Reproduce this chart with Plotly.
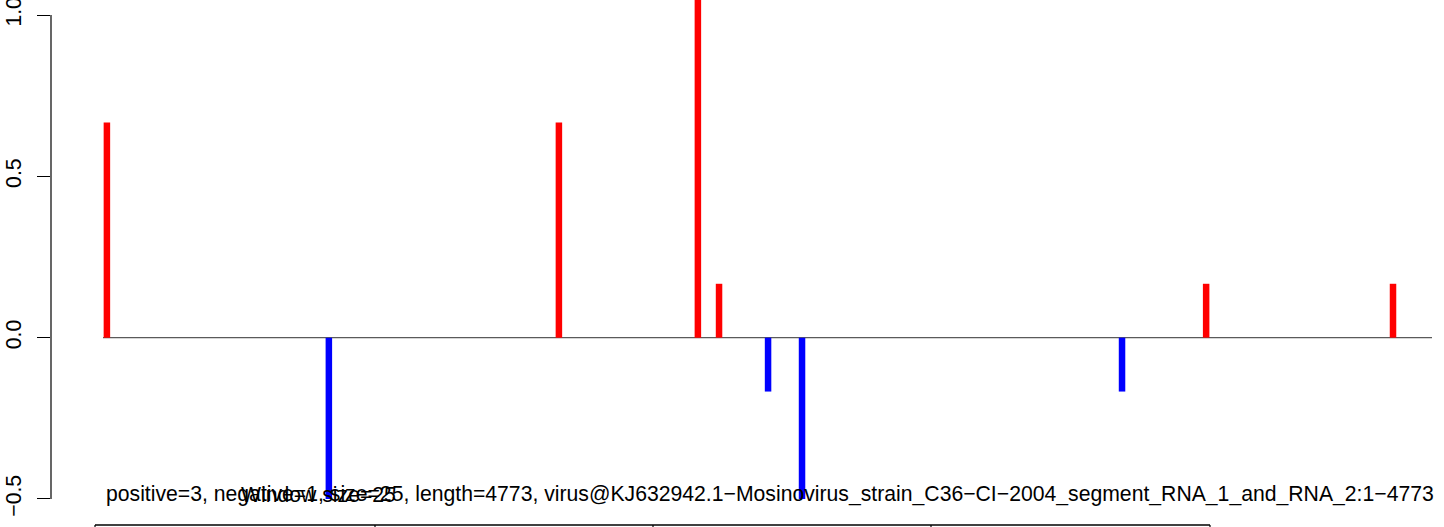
import plotly.graph_objects as go

# window positions along the genome and the scores at each
positions = [15, 812, 1638, 2137, 2213, 2389, 2511, 3660, 3962, 4633]
scores = [0.667, -0.5, 0.667, 1.167, 0.167, -0.167, -0.5, -0.167, 0.167, 0.167]
genome_len = 4773

y_ticks = [-0.5, 0.0, 0.5, 1.0]
y_tick_text = ["\u22120.5", "0.0", "0.5", "1.0"]

info_text = ("positive=3, negative=1, size=25, length=4773, "
             "virus@KJ632942.1\u2212Mosinovirus_strain_C36\u2212CI\u22122004_segment_RNA_1_and_RNA_2:1\u22124773")
window_text = "Window size=25"

W, H = 1444, 527
L = 51
FONT = "Liberation Sans, Arial, Helvetica, sans-serif"
FS = 21.2

fig = go.Figure()

# baseline across the genome
fig.add_trace(go.Scatter(x=[1, genome_len], y=[0, 0], mode="lines",
                         line=dict(color="#5a5a5a", width=1.3), hoverinfo="skip"))

# one vertical stick per window, red above zero, blue below
for sign, col in [(1, "#ff0000"), (-1, "#0000ff")]:
    xs, ys = [], []
    for p, s in zip(positions, scores):
        if s * sign > 0:
            xs += [p, p, None]
            ys += [0, s, None]
    fig.add_trace(go.Scatter(x=xs, y=ys, mode="lines",
                             line=dict(color=col, width=6.5), hoverinfo="skip"))

# y axis line only over the tick span (R style)
fig.add_shape(type="line", xref="paper", yref="y", x0=0, x1=0,
              y0=min(y_ticks), y1=max(y_ticks), line=dict(color="black", width=1.2))

# frame top of the panel cut off below
by = 2 / H
fig.add_shape(type="line", xref="paper", yref="paper",
              x0=(95 - L) / (W - L), x1=(1210 - L) / (W - L), y0=by, y1=by,
              line=dict(color="black", width=1.6))
for px in [95, 375, 653, 931, 1210]:
    fig.add_shape(type="line", xref="paper", yref="paper",
                  x0=(px - L) / (W - L), x1=(px - L) / (W - L), y0=by, y1=-0.01,
                  line=dict(color="black", width=1.2))

fig.add_annotation(text=info_text, xref="paper", yref="paper",
                   x=(104 - L) / (W - L), y=(H - 494) / H,
                   xanchor="left", yanchor="middle", showarrow=False,
                   font=dict(family=FONT, size=FS, color="black"))
fig.add_annotation(text=window_text, xref="paper", yref="paper",
                   x=(318.5 - L) / (W - L), y=(H - 494) / H,
                   xanchor="center", yanchor="middle", showarrow=False,
                   font=dict(family=FONT, size=FS, color="black"))

px_per_unit = 1329 / (genome_len - 1)
x0 = 1 - 52 / px_per_unit
x1 = x0 + (W - L) / px_per_unit

fig.update_layout(
    width=W, height=H,
    margin=dict(l=L, r=0, t=0, b=0, pad=0),
    paper_bgcolor="white", plot_bgcolor="white",
    showlegend=False,
    font=dict(family=FONT, size=FS, color="black"),
    xaxis=dict(range=[x0, x1], visible=False, showgrid=False, zeroline=False,
               automargin=False),
    yaxis=dict(range=[-0.5868, 1.0465], showgrid=False, zeroline=False, showline=False,
               automargin=False, ticklabeloverflow="allow", ticklabelstandoff=8,
               tickmode="array", tickvals=y_ticks, ticktext=y_tick_text,
               ticks="outside", ticklen=13, tickwidth=1.2, tickcolor="black",
               tickangle=-90, tickfont=dict(family=FONT, size=FS, color="black")),
)

fig.write_html("out.html", config={"displayModeBar": False},
               post_script="document.body.style.margin='0';document.body.style.overflow='hidden';")
